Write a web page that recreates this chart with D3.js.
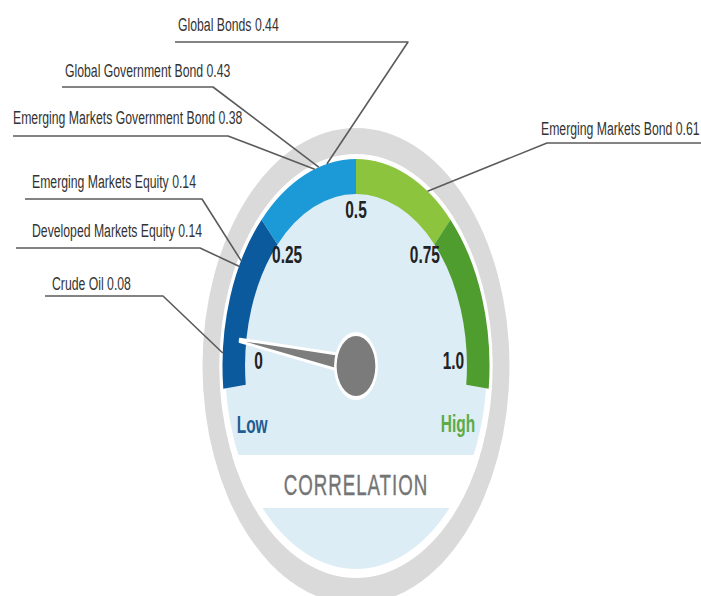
<!DOCTYPE html>
<html>
<head>
<meta charset="utf-8">
<script src="https://cdn.jsdelivr.net/npm/d3@7/dist/d3.min.js"></script>
<style>
  html, body { margin: 0; padding: 0; background: #ffffff; }
  svg { display: block; font-family: "Liberation Sans", Arial, sans-serif; }
</style>
</head>
<body>
<svg id="chart" width="701" height="596"></svg>
<script>
// ---------------- DATA ----------------
const assets = [
  "Global Bonds",
  "Global Government Bond",
  "Emerging Markets Government Bond",
  "Emerging Markets Equity",
  "Developed Markets Equity",
  "Crude Oil",
  "Emerging Markets Bond"
];
const correlations = [0.44, 0.43, 0.38, 0.14, 0.14, 0.08, 0.61];
// where each leader line touches the dial (gauge units)
const pointerAt = [0.43, 0.41, 0.40, 0.17, 0.16, 0.02, 0.68];
const tickValues = [0, 0.25, 0.5, 0.75, 1.0];
const tickLabels = ["0", "0.25", "0.5", "0.75", "1.0"];
const bandStops = [-0.035, 0.25, 0.5, 0.75, 1.035];
const needleValue = 0.045;
const lowLabel = "Low", highLabel = "High", dialTitle = "CORRELATION";

// ---------------- LAYOUT / STYLE ----------------
const bandColors = ["#0b5a9d", "#1b9ad7", "#8cc43d", "#4f9c2f"];
const cx = 356, cy = 366, sx = 0.645;   // dial centre, horizontal squeeze
const R = { ringOuter: 238, ringInner: 212, face: 203, arcOuter: 207, arcInner: 172, tick: 151, pointer: 207, needle: 182, hub: 30 };
// label layout: text left/baseline, underline span, side of elbow
const calloutLayout = [
  { tx: 178, ty: 31,  ux0: 175, ux1: 408, uy: 42,  side: "left" },
  { tx: 65,  ty: 77,  ux0: 62,  ux1: 213, uy: 87,  side: "left" },
  { tx: 13,  ty: 124, ux0: 13,  ux1: 228, uy: 136, side: "left" },
  { tx: 32,  ty: 188, ux0: 25,  ux1: 202, uy: 199, side: "left" },
  { tx: 32,  ty: 237, ux0: 16,  ux1: 200, uy: 248, side: "left" },
  { tx: 52,  ty: 290, ux0: 45,  ux1: 163, uy: 296, side: "left" },
  { tx: 541, ty: 135, ux0: 547, ux1: 701, uy: 143, side: "right" }
];

const svg = d3.select("#chart");
svg.append("rect").attr("width", 701).attr("height", 596).attr("fill", "#ffffff");

const angle = d3.scaleLinear().domain([0, 1]).range([-Math.PI / 2, Math.PI / 2]);
const toPx = (r, a) => [cx + sx * r * Math.sin(a), cy - r * Math.cos(a)];

const defs = svg.append("defs");
defs.append("clipPath").attr("id", "innerClip")
  .append("circle").attr("r", R.ringInner);

const g = svg.append("g").attr("transform", `translate(${cx},${cy}) scale(${sx},1)`);

// grey outer ring + white disc
g.append("circle").attr("r", R.ringOuter).attr("fill", "#dadada");
g.append("circle").attr("r", R.ringInner).attr("fill", "#ffffff");
// face
g.append("circle").attr("r", R.face).attr("fill", "#ddedf6");
// white title band
g.append("rect").attr("clip-path", "url(#innerClip)")
  .attr("x", -R.ringOuter).attr("width", 2 * R.ringOuter)
  .attr("y", 89).attr("height", 53).attr("fill", "#ffffff");

// coloured bands
const arc = d3.arc().innerRadius(R.arcInner).outerRadius(R.arcOuter);
const bands = d3.range(bandStops.length - 1).map(i => ({
  startAngle: angle(bandStops[i]), endAngle: angle(bandStops[i + 1]), color: bandColors[i]
}));
g.selectAll("path.band").data(bands).join("path")
  .attr("class", "band").attr("d", arc).attr("fill", d => d.color);

// tick labels
g.selectAll("text.tick").data(tickValues).join("text")
  .attr("class", "tick")
  .attr("x", d => R.tick * Math.sin(angle(d)))
  .attr("y", d => -R.tick * Math.cos(angle(d)) - 5)
  .attr("text-anchor", "middle").attr("dominant-baseline", "central")
  .attr("font-size", 24).attr("font-weight", "bold").attr("fill", "#222")
  .text((d, i) => tickLabels[i]);

// Low / High
g.append("text").attr("x", -161).attr("y", 67).attr("text-anchor", "middle")
  .attr("font-size", 24).attr("font-weight", "bold").attr("fill", "#1f5d92").text(lowLabel);
g.append("text").attr("x", 158).attr("y", 66).attr("text-anchor", "middle")
  .attr("font-size", 24).attr("font-weight", "bold").attr("fill", "#5cab43").text(highLabel);

// title
g.append("text").attr("x", 0).attr("y", 129).attr("text-anchor", "middle")
  .attr("font-size", 29).attr("letter-spacing", 1.5).attr("fill", "#747474")
  .attr("stroke", "#747474").attr("stroke-width", 0.4)
  .text(dialTitle);

// needle
const na = angle(needleValue);
const perp = na - Math.PI / 2;
const pt = (r, a) => [r * Math.sin(a), -r * Math.cos(a)];
const tip = pt(R.needle, na);
const b1 = pt(9, perp), b2 = pt(-9, perp);
const t1 = [tip[0] + 1.2 * Math.sin(perp), tip[1] - 1.2 * Math.cos(perp)];
const t2 = [tip[0] - 1.2 * Math.sin(perp), tip[1] + 1.2 * Math.cos(perp)];
g.append("path")
  .attr("d", d3.line()([b1, t1, t2, b2]) + "Z")
  .attr("fill", "#7d7d7d").attr("stroke", "#ffffff").attr("stroke-width", 3)
  .attr("stroke-linejoin", "round");
// hub
g.append("circle").attr("r", R.hub + 4).attr("fill", "#ffffff");
g.append("circle").attr("r", R.hub).attr("fill", "#7b7b7b");

// callouts
const callouts = assets.map((name, i) => ({
  label: `${name} ${correlations[i].toFixed(2)}`,
  anchor: toPx(R.pointer, angle(pointerAt[i])),
  lay: calloutLayout[i]
}));
const lines = svg.append("g").attr("fill", "none").attr("stroke", "#5b5b5b")
  .attr("stroke-width", 1.6).attr("stroke-linejoin", "round");
lines.selectAll("path").data(callouts).join("path")
  .attr("d", d => {
    const L = d.lay;
    const pts = L.side === "left"
      ? [[L.ux0, L.uy], [L.ux1, L.uy], d.anchor]
      : [[L.ux1, L.uy], [L.ux0, L.uy], d.anchor];
    return d3.line()(pts);
  });

const tg = svg.append("g").attr("transform", `scale(${sx},1)`);
tg.selectAll("text").data(callouts).join("text")
  .attr("x", d => d.lay.tx / sx).attr("y", d => d.lay.ty)
  .attr("font-size", 19).attr("fill", "#333333")
  .text(d => d.label);
</script>
</body>
</html>
